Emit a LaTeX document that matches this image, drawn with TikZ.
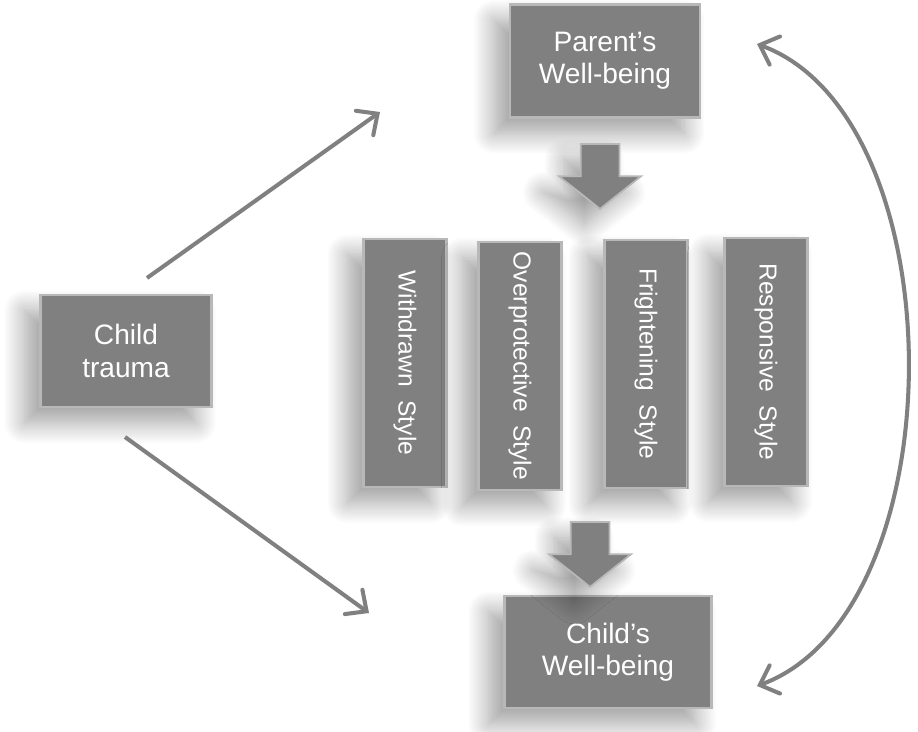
\documentclass[tikz,border=0pt]{standalone}
\usepackage{fontspec}
\setmainfont{Liberation Sans}
\usepackage{tikz}
\usetikzlibrary{arrows.meta,shapes.arrows,shadows.blur}

\begin{document}
\begin{tikzpicture}[
    x=0.02cm, y=-0.02cm,
    softshadow/.style={blur shadow={shadow xshift=-9pt, shadow yshift=-9pt, shadow blur radius=12pt,
        shadow blur steps=24, shadow opacity=38}},
    boxnode/.style={draw=black!28, line width=1.2pt, fill=black!50, text=white, align=center,
        font=\fontsize{16}{18.5}\selectfont, inner sep=0pt, softshadow},
    stylenode/.style={boxnode, font=\fontsize{14}{16}\selectfont,
        minimum width=1.66cm, minimum height=4.96cm},
    blockarrow/.style={single arrow, shape border rotate=270, draw=black!28, line width=1pt, fill=black!50,
        inner sep=0.37cm, single arrow head extend=0.43cm,
        single arrow tip angle=103, minimum height=1.3cm, softshadow},
    link/.style={draw=black!50, line width=2.3pt, -{Straight Barb[length=3.2mm, width=6mm, line cap=round]}}
]
\useasboundingbox (0,0) rectangle (918,732);

% Main boxes
\node[boxnode, minimum width=3.8cm, minimum height=2.26cm] (parent) at (605,61) {Parent’s\\Well-being};
\node[boxnode, minimum width=3.42cm, minimum height=2.24cm] (trauma) at (126,351) {Child\\trauma};
\node[boxnode, minimum width=4.14cm, minimum height=2.24cm] (child) at (608,652) {Child’s\\Well-being};

% Parenting styles
\node[stylenode] (withdrawn) at (405,363) {\rotatebox{-90}{Withdrawn\ \ Style}};
\node[stylenode] (overprot) at (520,366) {\rotatebox{-90}{Overprotective\ \ Style}};
\node[stylenode] (fright) at (646,364) {\rotatebox{-90}{Frightening\ \ Style}};
\node[stylenode] (respons) at (766,362) {\rotatebox{-90}{Responsive\ \ Style}};

% Block arrows
\node[blockarrow, anchor=tip] (downA) at (600,210) {};
\node[blockarrow, anchor=tip] (downB) at (590,588) {};

% Arrows from child trauma
\coordinate (upS) at (147,278);
\coordinate (upE) at (380,112);
\coordinate (dnS) at (125,437);
\coordinate (dnE) at (369,613);
\draw[link] (upS) -- (upE);
\draw[link] (dnS) -- (dnE);

% Feedback loop
\coordinate (loopTop) at (757,44);
\coordinate (loopBot) at (757,686);
\draw[link, {Straight Barb[length=3.2mm, width=6mm, line cap=round]}-{Straight Barb[length=3.2mm, width=6mm, line cap=round]}]
    (loopTop) .. controls (958,118) and (958,612) .. (loopBot);

\end{tikzpicture}
\end{document}
